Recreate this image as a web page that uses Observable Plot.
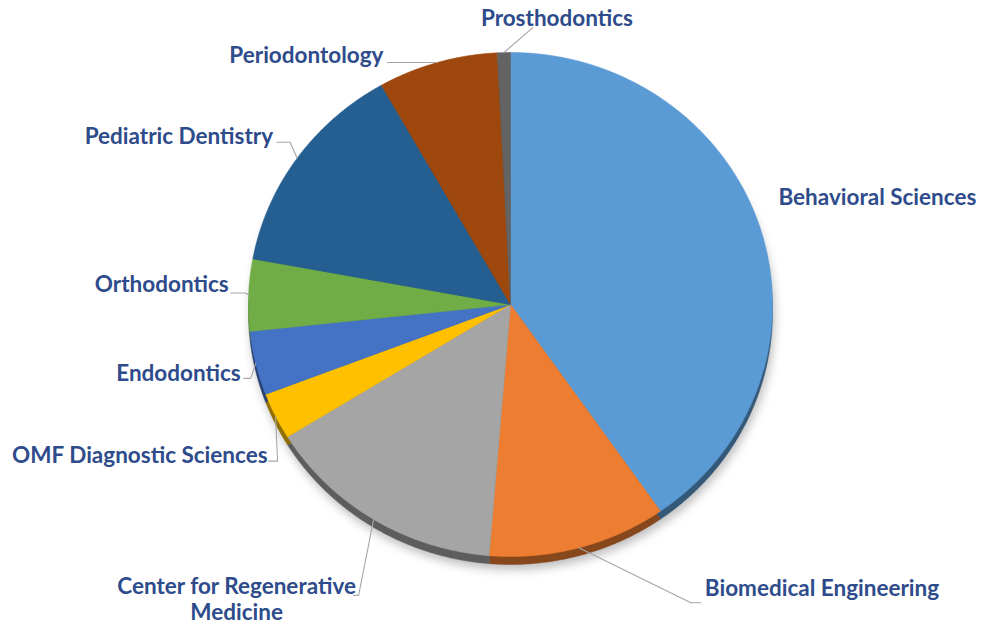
<!DOCTYPE html>
<html>
<head>
<meta charset="utf-8">
<script src="https://cdn.jsdelivr.net/npm/d3@7"></script>
<script src="https://cdn.jsdelivr.net/npm/@observablehq/plot@0.6"></script>
<style>
  html, body { margin: 0; padding: 0; background: #ffffff; }
  #chart { width: 982px; height: 628px; }
</style>
</head>
<body>
<div id="chart"></div>
<script>
// ---- data ----
const departments = [
  "Behavioral Sciences",
  "Biomedical Engineering",
  "Center for Regenerative\nMedicine",
  "OMF Diagnostic Sciences",
  "Endodontics",
  "Orthodontics",
  "Pediatric Dentistry",
  "Periodontology",
  "Prosthodontics"
];
const shares = [40.3, 11.0, 14.9, 3.0, 4.1, 4.6, 13.9, 7.4, 0.8];
const sliceColors = ["#5b9bd5", "#ed7d31", "#a5a5a5", "#ffc000", "#4472c4", "#70ad47", "#255e91", "#9e480e", "#636363"];

// ---- layout (pixel offsets for labels / leader lines, relative to each slice's rim point) ----
const labelLayout = [
  {line: false, edx: 0,   edy: 0,   tail: 0,   tdx: 18,   tdy: -32, anchor: "start"},
  {line: true,  edx: 112, edy: 55,  tail: 10,  tdx: 4,    tdy: -15, anchor: "start"},
  {line: true,  edx: -15, edy: 76,  tail: -5,  tdx: -117, tdy: 3,   anchor: "middle"},
  {line: true,  edx: 2,   edy: 45,  tail: -9,  tdx: -1,   tdy: -7,  anchor: "end"},
  {line: true,  edx: -5,  edy: 15,  tail: -7,  tdx: -3,   tdy: -6,  anchor: "end"},
  {line: true,  edx: -3,  edy: -2,  tail: -15, tdx: -2,   tdy: -9,  anchor: "end"},
  {line: true,  edx: -7,  edy: -16, tail: -13, tdx: -4,   tdy: -7,  anchor: "end"},
  {line: true,  edx: -50, edy: 0,   tail: 0,   tdx: -4,   tdy: -8,  anchor: "end"},
  {line: true,  edx: 29,  edy: -25, tail: 0,   tdx: 24,   tdy: -10, anchor: "middle"}
];
const W = 982, H = 628;
const cx = 510, cy = 304, rx = 262, ry = 252, depth = 8;

// ---- derived geometry ----
const total = d3.sum(shares);
const rim = (deg) => {
  const t = deg * Math.PI / 180;
  return {x: cx + rx * Math.sin(t), y: cy - ry * Math.cos(t)};
};
let acc = 0;
const slices = departments.map((name, i) => {
  const a0 = acc / total * 360;
  acc += shares[i];
  const a1 = acc / total * 360;
  return {name, a0, a1, mid: (a0 + a1) / 2, color: sliceColors[i],
          shade: d3.color(sliceColors[i]).darker(1.6).formatHex()};
});
const polyPts = [];
slices.forEach(s => {
  polyPts.push({name: s.name, color: s.color, shade: s.shade, x: cx, y: cy});
  const n = Math.max(2, Math.ceil((s.a1 - s.a0) / 0.25));
  for (let k = 0; k <= n; k++) {
    const p = rim(s.a0 + (s.a1 - s.a0) * k / n);
    polyPts.push({name: s.name, color: s.color, shade: s.shade, x: p.x, y: p.y});
  }
  polyPts.push({name: s.name, color: s.color, shade: s.shade, x: cx, y: cy});
});
const leaderPts = [];
const labelPts = [];
slices.forEach((s, i) => {
  const L = labelLayout[i];
  const R = rim(s.mid);
  const E = {x: R.x + L.edx, y: R.y + L.edy};
  const T = {x: E.x + L.tail, y: E.y};
  if (L.line) {
    leaderPts.push({name: s.name, x: R.x, y: R.y});
    leaderPts.push({name: s.name, x: E.x, y: E.y});
    if (L.tail !== 0) leaderPts.push({name: s.name, x: T.x, y: T.y});
  }
  labelPts.push({name: s.name, anchor: L.anchor, x: T.x + L.tdx, y: T.y + L.tdy});
});

const textStyle = {x: "x", y: "y", text: "name", fontFamily: "Lato, 'Open Sans', sans-serif",
  fontSize: 22.5, fontWeight: 700, fill: "#2e4b8b", lineAnchor: "middle", lineHeight: 1.17};

const chart = Plot.plot({
  width: W, height: H, margin: 0,
  x: {domain: [0, W], range: [0, W], axis: null},
  y: {domain: [0, H], range: [0, H], axis: null},
  color: {type: "identity"},
  marks: [
    Plot.line(polyPts, {x: "x", y: "y", z: "name", fill: "shade", stroke: "shade", strokeWidth: 0.5, dy: depth}),
    Plot.line(polyPts, {x: "x", y: "y", z: "name", fill: "color", stroke: "color", strokeWidth: 0.6}),
    Plot.line(leaderPts, {x: "x", y: "y", z: "name", stroke: "#a6a6a6", strokeWidth: 1.1}),
    Plot.text(labelPts.filter(d => d.anchor === "start"), {...textStyle, textAnchor: "start"}),
    Plot.text(labelPts.filter(d => d.anchor === "end"), {...textStyle, textAnchor: "end"}),
    Plot.text(labelPts.filter(d => d.anchor === "middle"), {...textStyle, textAnchor: "middle"})
  ]
});
document.getElementById("chart").appendChild(chart);
// soft drop shadow under the pie's depth layer
const groups = chart.querySelectorAll("g[aria-label='line']");
if (groups.length) groups[0].style.filter = "drop-shadow(2px 5px 5px rgba(0,0,0,0.25))";
</script>
</body>
</html>
